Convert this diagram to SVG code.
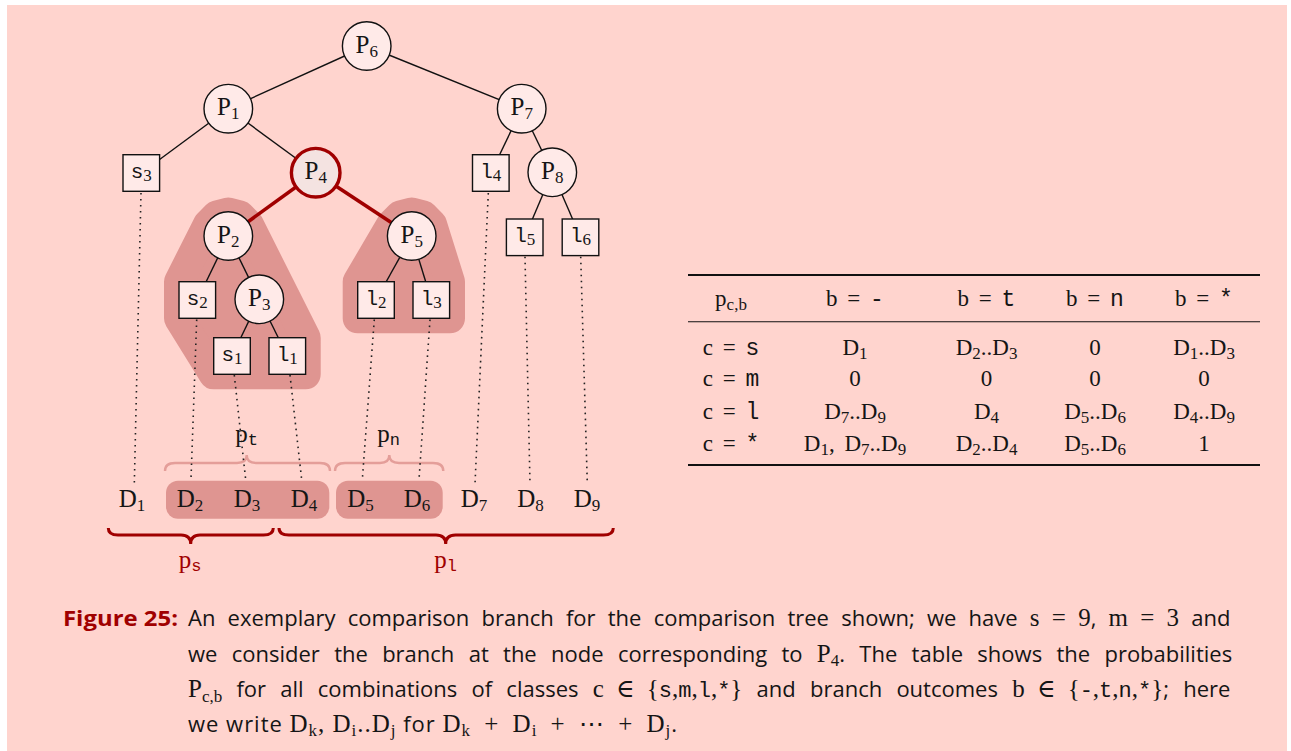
<svg xmlns="http://www.w3.org/2000/svg" width="1291" height="751" viewBox="0 0 1291 751">
<style>
.m{font-family:"Liberation Serif","DejaVu Serif",serif;fill:#151515}
.tt{font-family:"Liberation Mono","DejaVu Sans Mono",monospace}
.cap{font-family:"Open Sans","Noto Sans",sans-serif;font-size:22px;fill:#151515}
.cm{font-size:25px}
.cs{font-size:17px}
.edge{stroke:#111;stroke-width:1.4;fill:none}
.red{stroke:#A00000;stroke-width:3.6;fill:none}
.dot{stroke:#222;stroke-width:1.6;stroke-dasharray:1.6 4.4;fill:none}
.nd{fill:#FFEAE8;stroke:#111;stroke-width:1.4}
.sel{fill:#F4E3E1;stroke:#A00000;stroke-width:3.4}
.pl{font-size:25px;text-anchor:middle}
.bl{font-size:21px;text-anchor:middle;fill:#151515}
.s{font-size:17px}
.blob{fill:#DF9591;stroke:#DF9591;stroke-width:30;stroke-linejoin:round}
.hl{fill:#DF9591}
.lb{stroke:#E49E99;stroke-width:2.4;fill:none}
.db{stroke:#A00000;stroke-width:3;fill:none}
.dl{font-size:25px;text-anchor:middle}
.tb{font-size:23px;text-anchor:middle;word-spacing:4px}
.ts{font-size:17px}
.ms{word-spacing:6px}
.rule{stroke:#111;fill:none}
</style>
<rect x="7" y="5" width="1280" height="746" fill="#FFD4CE"/>

<g id="highlights">
<polygon class="blob" points="208,224.3 216.6,215.6 228.3,212.5 240,215.6 248.7,224.3 305.7,337.7 305.7,374.3 213.7,374.3 179,318.3 179,281.7"/>
<polygon class="blob" points="391.3,224.3 400,215.6 411.7,212.5 423.4,215.6 432,224.3 450,281.7 450,318.3 357.7,318.3 357.7,281.7"/>
<rect class="hl" x="166" y="480.7" width="163.3" height="38" rx="12"/>
<rect class="hl" x="336" y="480.7" width="106.7" height="38" rx="12"/>
</g>

<g id="braces">
<path class="lb" d="M165,471 Q165,463 175,463 L237,463 Q246.7,463 246.7,455 Q246.7,463 256,463 L320,463 Q330,463 330,471"/>
<path class="lb" d="M335,471 Q335,463 345,463 L380,463 Q389.3,463 389.3,455 Q389.3,463 399,463 L433,463 Q443.3,463 443.3,471"/>
<path class="db" d="M108.3,528 Q108.3,535 118,535 L181,535 Q190.7,535 190.7,544 Q190.7,535 200,535 L263.5,535 Q273.3,535 273.3,528"/>
<path class="db" d="M279,528 Q279,535 289,535 L436,535 Q445.7,535 445.7,544 Q445.7,535 455.5,535 L603.5,535 Q613.3,535 613.3,528"/>
</g>

<g id="connectors">
<line class="dot" x1="141" y1="193" x2="134.3" y2="484"/>
<line class="dot" x1="196.7" y1="319.5" x2="191" y2="479"/>
<line class="dot" x1="234.3" y1="375" x2="245.7" y2="480"/>
<line class="dot" x1="290" y1="375" x2="301.7" y2="480"/>
<line class="dot" x1="374.3" y1="319.5" x2="362.3" y2="480"/>
<line class="dot" x1="430" y1="319.5" x2="419" y2="480"/>
<line class="dot" x1="488.3" y1="193" x2="475" y2="484"/>
<line class="dot" x1="525" y1="256.7" x2="530" y2="484"/>
<line class="dot" x1="580.7" y1="256.7" x2="587.3" y2="484"/>
<line class="edge" x1="366.7" y1="46" x2="228.3" y2="108.7"/>
<line class="edge" x1="366.7" y1="46" x2="521.7" y2="108.7"/>
<line class="edge" x1="228.3" y1="108.7" x2="141.3" y2="173"/>
<line class="edge" x1="228.3" y1="108.7" x2="315.7" y2="172.7"/>
<line class="edge" x1="521.7" y1="108.7" x2="490.8" y2="173"/>
<line class="edge" x1="521.7" y1="108.7" x2="552.3" y2="172.3"/>
<line class="edge" x1="552.3" y1="172.3" x2="524.7" y2="237.3"/>
<line class="edge" x1="552.3" y1="172.3" x2="580.5" y2="237.3"/>
<line class="edge" x1="228.3" y1="236" x2="197.3" y2="300"/>
<line class="edge" x1="228.3" y1="236" x2="259.3" y2="299.3"/>
<line class="edge" x1="259.3" y1="299.3" x2="232" y2="356"/>
<line class="edge" x1="259.3" y1="299.3" x2="287.3" y2="356"/>
<line class="edge" x1="411.7" y1="236" x2="376" y2="300"/>
<line class="edge" x1="411.7" y1="236" x2="431.3" y2="300"/>
<line class="red" x1="315.7" y1="172.7" x2="228.3" y2="236"/>
<line class="red" x1="315.7" y1="172.7" x2="411.7" y2="236"/>
</g>

<g id="P6"><circle class="nd" cx="366.7" cy="46" r="24.3"/><text class="m pl" x="366.7" y="52.5">P<tspan class="s" dy="4">6</tspan></text></g>
<g id="P1"><circle class="nd" cx="228.3" cy="108.7" r="24.3"/><text class="m pl" x="228.3" y="115.2">P<tspan class="s" dy="4">1</tspan></text></g>
<g id="P7"><circle class="nd" cx="521.7" cy="108.7" r="24.3"/><text class="m pl" x="521.7" y="115.2">P<tspan class="s" dy="4">7</tspan></text></g>
<g id="P4"><circle class="sel" cx="315.7" cy="172.7" r="24.3"/><text class="m pl" x="315.7" y="179.2">P<tspan class="s" dy="4">4</tspan></text></g>
<g id="P8"><circle class="nd" cx="552.3" cy="172.3" r="24.3"/><text class="m pl" x="552.3" y="178.8">P<tspan class="s" dy="4">8</tspan></text></g>
<g id="P2"><circle class="nd" cx="228.3" cy="236" r="24.3"/><text class="m pl" x="228.3" y="242.5">P<tspan class="s" dy="4">2</tspan></text></g>
<g id="P5"><circle class="nd" cx="411.7" cy="236" r="24.3"/><text class="m pl" x="411.7" y="242.5">P<tspan class="s" dy="4">5</tspan></text></g>
<g id="P3"><circle class="nd" cx="259.3" cy="299.3" r="24.3"/><text class="m pl" x="259.3" y="305.8">P<tspan class="s" dy="4">3</tspan></text></g>

<g id="s3"><rect class="nd" x="123" y="154.7" width="36.6" height="36.6"/><text class="bl" x="141.3" y="177.5"><tspan class="tt">s</tspan><tspan class="m s" dy="3">3</tspan></text></g>
<g id="l4"><rect class="nd" x="472.5" y="154.7" width="36.6" height="36.6"/><text class="bl" x="490.8" y="177.5"><tspan class="tt">l</tspan><tspan class="m s" dy="3">4</tspan></text></g>
<g id="l5"><rect class="nd" x="506.4" y="219" width="36.6" height="36.6"/><text class="bl" x="524.7" y="241.8"><tspan class="tt">l</tspan><tspan class="m s" dy="3">5</tspan></text></g>
<g id="l6"><rect class="nd" x="562.2" y="219" width="36.6" height="36.6"/><text class="bl" x="580.5" y="241.8"><tspan class="tt">l</tspan><tspan class="m s" dy="3">6</tspan></text></g>
<g id="s2"><rect class="nd" x="179" y="281.7" width="36.6" height="36.6"/><text class="bl" x="197.3" y="304.5"><tspan class="tt">s</tspan><tspan class="m s" dy="3">2</tspan></text></g>
<g id="l2"><rect class="nd" x="357.7" y="281.7" width="36.6" height="36.6"/><text class="bl" x="376" y="304.5"><tspan class="tt">l</tspan><tspan class="m s" dy="3">2</tspan></text></g>
<g id="l3"><rect class="nd" x="413" y="281.7" width="36.6" height="36.6"/><text class="bl" x="431.3" y="304.5"><tspan class="tt">l</tspan><tspan class="m s" dy="3">3</tspan></text></g>
<g id="s1"><rect class="nd" x="213.7" y="337.7" width="36.6" height="36.6"/><text class="bl" x="232" y="360.5"><tspan class="tt">s</tspan><tspan class="m s" dy="3">1</tspan></text></g>
<g id="l1"><rect class="nd" x="269" y="337.7" width="36.6" height="36.6"/><text class="bl" x="287.3" y="360.5"><tspan class="tt">l</tspan><tspan class="m s" dy="3">1</tspan></text></g>

<g id="D-labels">
<text class="m dl" x="132" y="506.5">D<tspan class="s" dy="4">1</tspan></text>
<text class="m dl" x="190" y="506.5">D<tspan class="s" dy="4">2</tspan></text>
<text class="m dl" x="247" y="506.5">D<tspan class="s" dy="4">3</tspan></text>
<text class="m dl" x="304" y="506.5">D<tspan class="s" dy="4">4</tspan></text>
<text class="m dl" x="360.5" y="506.5">D<tspan class="s" dy="4">5</tspan></text>
<text class="m dl" x="417" y="506.5">D<tspan class="s" dy="4">6</tspan></text>
<text class="m dl" x="474" y="506.5">D<tspan class="s" dy="4">7</tspan></text>
<text class="m dl" x="530.5" y="506.5">D<tspan class="s" dy="4">8</tspan></text>
<text class="m dl" x="587" y="506.5">D<tspan class="s" dy="4">9</tspan></text>
</g>

<g id="brace-labels">
<text class="m pl" x="246.7" y="441.7">p<tspan class="tt s" dy="3">t</tspan></text>
<text class="m pl" x="388.5" y="441.7">p<tspan class="tt s" dy="3">n</tspan></text>
<text class="m pl" x="190" y="568" style="fill:#A00000">p<tspan class="tt s" dy="3">s</tspan></text>
<text class="m pl" x="445.7" y="568" style="fill:#A00000">p<tspan class="tt s" dy="3">l</tspan></text>
</g>

<g id="table">
<line class="rule" x1="688" y1="275" x2="1260" y2="275" stroke-width="1.8"/>
<line class="rule" x1="688" y1="321.7" x2="1260" y2="321.7" stroke-width="1.1"/>
<line class="rule" x1="688" y1="465" x2="1260" y2="465" stroke-width="1.8"/>
<text class="m tb" x="731" y="306">p<tspan class="ts" dy="4">c,b</tspan></text>
<text class="m tb" x="855" y="306">b = <tspan class="tt">-</tspan></text>
<text class="m tb" x="986.5" y="306">b = <tspan class="tt">t</tspan></text>
<text class="m tb" x="1095" y="306">b = <tspan class="tt">n</tspan></text>
<text class="m tb" x="1204" y="306">b = <tspan class="tt">*</tspan></text>

<text class="m tb" x="731" y="355">c = <tspan class="tt">s</tspan></text>
<text class="m tb" x="855" y="355">D<tspan class="ts" dy="4">1</tspan></text>
<text class="m tb" x="986.5" y="355">D<tspan class="ts" dy="4">2</tspan><tspan dy="-4">..D</tspan><tspan class="ts" dy="4">3</tspan></text>
<text class="m tb" x="1095" y="355">0</text>
<text class="m tb" x="1204" y="355">D<tspan class="ts" dy="4">1</tspan><tspan dy="-4">..D</tspan><tspan class="ts" dy="4">3</tspan></text>

<text class="m tb" x="731" y="386">c = <tspan class="tt">m</tspan></text>
<text class="m tb" x="855" y="386">0</text>
<text class="m tb" x="986.5" y="386">0</text>
<text class="m tb" x="1095" y="386">0</text>
<text class="m tb" x="1204" y="386">0</text>

<text class="m tb" x="731" y="418.5">c = <tspan class="tt">l</tspan></text>
<text class="m tb" x="855" y="418.5">D<tspan class="ts" dy="4">7</tspan><tspan dy="-4">..D</tspan><tspan class="ts" dy="4">9</tspan></text>
<text class="m tb" x="986.5" y="418.5">D<tspan class="ts" dy="4">4</tspan></text>
<text class="m tb" x="1095" y="418.5">D<tspan class="ts" dy="4">5</tspan><tspan dy="-4">..D</tspan><tspan class="ts" dy="4">6</tspan></text>
<text class="m tb" x="1204" y="418.5">D<tspan class="ts" dy="4">4</tspan><tspan dy="-4">..D</tspan><tspan class="ts" dy="4">9</tspan></text>

<text class="m tb" x="731" y="450.5">c = <tspan class="tt">*</tspan></text>
<text class="m tb" x="855" y="450.5">D<tspan class="ts" dy="4">1</tspan><tspan dy="-4">, D</tspan><tspan class="ts" dy="4">7</tspan><tspan dy="-4">..D</tspan><tspan class="ts" dy="4">9</tspan></text>
<text class="m tb" x="986.5" y="450.5">D<tspan class="ts" dy="4">2</tspan><tspan dy="-4">..D</tspan><tspan class="ts" dy="4">4</tspan></text>
<text class="m tb" x="1095" y="450.5">D<tspan class="ts" dy="4">5</tspan><tspan dy="-4">..D</tspan><tspan class="ts" dy="4">6</tspan></text>
<text class="m tb" x="1204" y="450.5">1</text>
</g>

<g id="caption">
<text class="cap" x="63" y="625.5" font-weight="bold" style="fill:#A00000" textLength="115" lengthAdjust="spacingAndGlyphs">Figure 25:</text>
<text class="cap" x="188" y="625.5" style="word-spacing:6.5px">An exemplary comparison branch for the comparison tree shown; we have <tspan class="m cm ms">s = 9</tspan>, <tspan class="m cm ms">m = 3</tspan> and</text>
<text class="cap" x="188" y="661.5" style="word-spacing:8.6px">we consider the branch at the node corresponding to <tspan class="m cm">P</tspan><tspan class="m cs" dy="4">4</tspan><tspan dy="-4">.  The table shows the probabilities</tspan></text>
<text class="cap" x="188" y="696.5" style="word-spacing:8.5px"><tspan class="m cm">P</tspan><tspan class="m cs" dy="5">c,b</tspan><tspan dy="-5"> for all combinations of classes </tspan><tspan class="m cm ms">c ∈ {</tspan><tspan class="tt">s</tspan><tspan class="m cm">,</tspan><tspan class="tt">m</tspan><tspan class="m cm">,</tspan><tspan class="tt">l</tspan><tspan class="m cm">,</tspan><tspan class="tt">*</tspan><tspan class="m cm">}</tspan> and branch outcomes <tspan class="m cm ms">b ∈ {</tspan><tspan class="tt">-</tspan><tspan class="m cm">,</tspan><tspan class="tt">t</tspan><tspan class="m cm">,</tspan><tspan class="tt">n</tspan><tspan class="m cm">,</tspan><tspan class="tt">*</tspan><tspan class="m cm">}</tspan>; here</text>
<text class="cap" x="188" y="731.5" textLength="489">we write <tspan class="m cm">D</tspan><tspan class="m cs" dy="4">k</tspan><tspan class="m cm" dy="-4">, D</tspan><tspan class="m cs" dy="4">i</tspan><tspan class="m cm" dy="-4">..D</tspan><tspan class="m cs" dy="4">j</tspan><tspan dy="-4"> for </tspan><tspan class="m cm">D</tspan><tspan class="m cs" dy="4">k</tspan><tspan class="m cm ms" dy="-4"> + D</tspan><tspan class="m cs" dy="4">i</tspan><tspan class="m cm ms" dy="-4"> + ⋯ + D</tspan><tspan class="m cs" dy="4">j</tspan><tspan dy="-4">.</tspan></text>
</g>
</svg>
